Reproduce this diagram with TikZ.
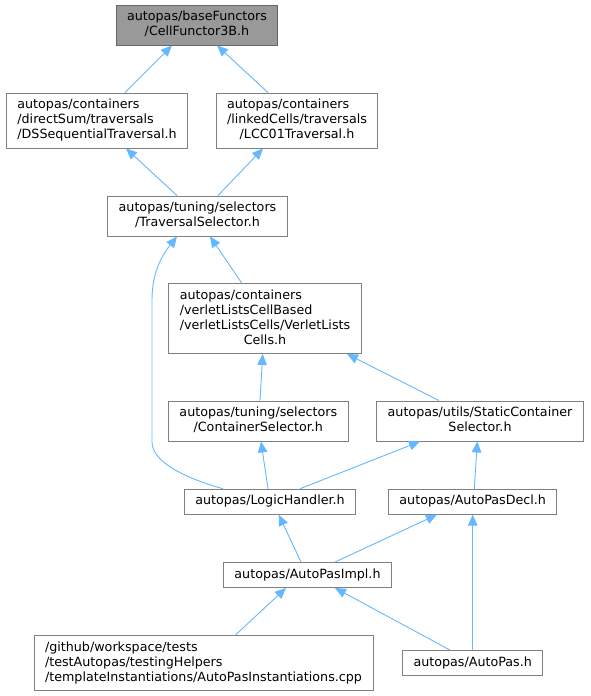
\documentclass[tikz,border=0pt]{standalone}
\usepackage{fontspec}
\setmainfont{DejaVu Sans}
\usepackage{xcolor}
\usepackage{tikz}
\usetikzlibrary{arrows.meta}

\definecolor{edgeblue}{HTML}{63B8FF}
\definecolor{boxline}{HTML}{808080}
\definecolor{rootfill}{HTML}{999999}
\definecolor{rootline}{HTML}{666666}

% header box: all lines left, last line centred
\newcommand{\hdr}[2]{\begin{tabular}{@{}l@{}}#1\multicolumn{1}{@{}c@{}}{#2}\end{tabular}}

\tikzset{
  file/.style={draw=boxline, line width=0.9pt, fill=white, inner xsep=11pt, inner ysep=5pt, font=\fontsize{12.7}{15}\selectfont},
  rootfile/.style={file, draw=rootline, fill=rootfill},
  edge/.style={draw=edgeblue, line width=0.9pt, -{Triangle[width=9.5pt,length=11pt]}}
}

\begin{document}
\begin{tikzpicture}[x=1pt, y=-1pt]
  \useasboundingbox (0,0) rectangle (591,696);

  \node[rootfile] (cf) at (197,25) {\hdr{autopas/baseFunctors\\}{/CellFunctor3B.h}};
  \node[file] (ds) at (97,120.5) {\hdr{autopas/containers\\/directSum/traversals\\}{/DSSequentialTraversal.h}};
  \node[file] (lcc) at (297,120.5) {\hdr{autopas/containers\\/linkedCells/traversals\\}{/LCC01Traversal.h}};
  \node[file] (ts) at (197.5,216) {\hdr{autopas/tuning/selectors\\}{/TraversalSelector.h}};
  \node[file] (vlc) at (265,318.5) {\hdr{autopas/containers\\/verletListsCellBased\\/verletListsCells/VerletLists\\}{Cells.h}};
  \node[file] (cs) at (258.3,421) {\hdr{autopas/tuning/selectors\\}{/ContainerSelector.h}};
  \node[file] (scs) at (480,421) {\hdr{autopas/utils/StaticContainer\\}{Selector.h}};
  \node[file] (lh) at (270,501.7) {\hdr{}{autopas/LogicHandler.h}};
  \node[file] (apd) at (472.7,501.7) {\hdr{}{autopas/AutoPasDecl.h}};
  \node[file] (api) at (307.5,575) {\hdr{}{autopas/AutoPasImpl.h}};
  \node[file] (inst) at (203.5,663) {\hdr{/github/workspace/tests\\/testAutopas/testingHelpers\\}{/templateInstantiations/AutoPasInstantiations.cpp}};
  \node[file] (ap) at (472.7,663) {\hdr{}{autopas/AutoPas.h}};

  % includes, pointing up to the included header
  \draw[edge] ([xshift=28]ds.north) -- ([xshift=-25]cf.south);
  \draw[edge] ([xshift=-29]lcc.north) -- ([xshift=20]cf.south);
  \draw[edge] ([xshift=-20.5]ts.north) -- ([xshift=29]ds.south);
  \draw[edge] ([xshift=20.5]ts.north) -- ([xshift=-34]lcc.south);
  \draw[edge] ([xshift=-23.3]vlc.north) -- ([xshift=12.5]ts.south);
  \draw[edge] ([xshift=-47]lh.north) .. controls (185,478) and (152,462) .. (152,442)
    -- (152,300) .. controls (152,275) and (160,258) .. ([xshift=-20.5]ts.south);
  \draw[edge] ([xshift=1.7]cs.north) -- ([xshift=-2.3]vlc.south);
  \draw[edge] ([xshift=-41]scs.north) -- ([xshift=82]vlc.south);
  \draw[edge] ([xshift=-2]lh.north) -- ([xshift=2.7]cs.south);
  \draw[edge] ([xshift=30]lh.north) -- ([xshift=-60]scs.south);
  \draw[edge] ([xshift=1.6]apd.north) -- ([xshift=-2.7]scs.south);
  \draw[edge] ([xshift=-6.5]api.north) -- ([xshift=8.7]lh.south);
  \draw[edge] ([xshift=27.5]api.north) -- ([xshift=-35.7]apd.south);
  \draw[edge] (ap.north) -- (apd.south);
  \draw[edge] ([xshift=31.9]inst.north) -- ([xshift=-21.5]api.south);
  \draw[edge] ([xshift=-22.7]ap.north) -- ([xshift=27.5]api.south);
\end{tikzpicture}
\end{document}
